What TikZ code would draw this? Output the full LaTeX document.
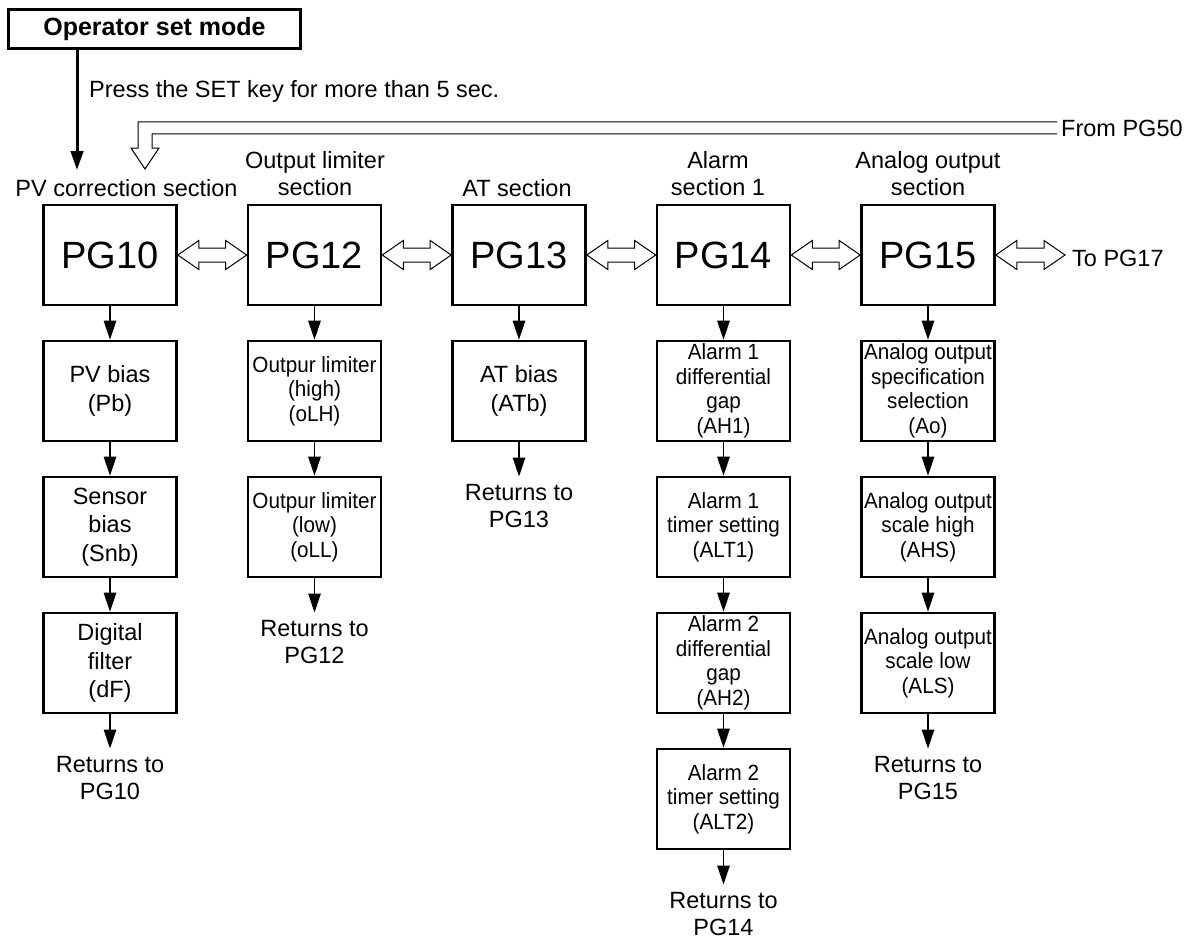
\documentclass[tikz,border=0pt]{standalone}
\usepackage{fontspec}
\setmainfont{Liberation Sans}
\newfontfamily\narrowfont[FakeStretch=0.94]{Liberation Sans}
\usetikzlibrary{calc}
\usetikzlibrary{arrows.meta}

\tikzset{
  pgbox/.style={draw, line width=2.6pt, minimum width=133pt, minimum height=100pt, inner sep=0pt, font=\fontsize{38}{40}\selectfont},
  itembox/.style={draw, line width=2.6pt, minimum width=133pt, minimum height=100pt, inner sep=0pt, align=center, font=\fontsize{23.5}{28.5}\selectfont},
  narrowbox/.style={itembox, font=\narrowfont\fontsize{22}{24.5}\selectfont},
  sectitle/.style={align=center, inner sep=0pt, font=\fontsize{23.5}{27}\selectfont},
  rettext/.style={align=center, anchor=north, inner xsep=0pt, inner ysep=8pt, font=\fontsize{23.5}{26.5}\selectfont},
  freetext/.style={inner sep=0pt, font=\fontsize{23.5}{27}\selectfont},
  flow/.style={line width=1.3pt, -{Triangle[length=19pt,width=12.5pt]}},
  hollow/.style={line width=1pt},
}

% hollow double arrow between two page boxes
\newcommand{\twoway}[2]{%
  \draw[hollow] (#1.east) -- ++(21,-14.5) -- ++(0,7.5)
    -- ($(#2.west |- #1.east)+(-21,-7)$) -- ++(0,-7.5) -- (#2.west |- #1.east)
    -- ++(-21,14.5) -- ++(0,-7.5) -- ($(#1.east)+(21,7)$) -- ++(0,7.5) -- cycle;}

\begin{document}
\begin{tikzpicture}[x=1pt, y=-1pt]
	\useasboundingbox (0,0) rectangle (1203,942);

	% entry from operator set mode
	\node[draw, line width=2.6pt, minimum width=292pt, minimum height=39pt, inner sep=0pt, font=\fontsize{25}{27}\selectfont\bfseries] (opmode) at (154.5,29) {Operator set mode};
	\coordinate (entry) at (77,170);
	\draw[flow, line width=3pt] (opmode.south -| entry) -- (entry);
	\node[freetext, anchor=base west] (presstext) at (89,97) {Press the SET key for more than 5 sec.};

	% return path from PG50
	\node[freetext, anchor=base west] (from50) at (1061,136) {From PG50};
	\coordinate (fbtip) at (145,169);
	\draw[hollow] ($(from50.west)+(-4,-6)$) -| ($(fbtip)+(-7,-21)$) -- ++(-7,0) -- (fbtip)
		-- ++(14,-21) -- ++(-7,0) |- ($(from50.west)+(-4,6)$);

	% section titles
	\node[sectitle] (secpv) at (126.5,188) {PV correction section};
	\node[sectitle] (secol) at (315,173.5) {Output limiter\\section};
	\node[sectitle] (secat) at (517,188) {AT section};
	\node[sectitle] (secal) at (718,173.5) {Alarm\\section 1};
	\node[sectitle] (secao) at (928,174) {Analog output\\section};

	% parameter groups
	\node[pgbox] (pg10) at (110,255) {PG10};
	\node[pgbox] (pg12) at (314.5,255) {PG12};
	\node[pgbox] (pg13) at (519,255) {PG13};
	\node[pgbox] (pg14) at (723.5,255) {PG14};
	\node[pgbox] (pg15) at (928,255) {PG15};
	\node[freetext, anchor=west, inner xsep=7pt] (pg17) at (1065,258) {To PG17};

	\twoway{pg10}{pg12}
	\twoway{pg12}{pg13}
	\twoway{pg13}{pg14}
	\twoway{pg14}{pg15}
	\twoway{pg15}{pg17}

	% PV correction section
	\node[itembox] (pb) at (110,391) {PV bias\\(Pb)};
	\node[itembox] (snb) at (110,527) {Sensor\\bias\\(Snb)};
	\node[itembox] (df) at (110,663) {Digital\\filter\\(dF)};
	\node[rettext] (ret10) at (110,748.5) {Returns to\\PG10};
	\draw[flow] (pg10.south) -- (pb.north);
	\draw[flow] (pb.south) -- (snb.north);
	\draw[flow] (snb.south) -- (df.north);
	\draw[flow] (df.south) -- (ret10.north);

	% output limiter section
	\node[narrowbox] (olh) at (314.5,391) {Outpur limiter\\(high)\\(oLH)};
	\node[narrowbox] (oll) at (314.5,527) {Outpur limiter\\(low)\\(oLL)};
	\node[rettext] (ret12) at (314.5,612.5) {Returns to\\PG12};
	\draw[flow] (pg12.south) -- (olh.north);
	\draw[flow] (olh.south) -- (oll.north);
	\draw[flow] (oll.south) -- (ret12.north);

	% AT section
	\node[itembox] (atb) at (519,391) {AT bias\\(ATb)};
	\node[rettext] (ret13) at (519,476.5) {Returns to\\PG13};
	\draw[flow] (pg13.south) -- (atb.north);
	\draw[flow] (atb.south) -- (ret13.north);

	% alarm section 1
	\node[narrowbox] (ah1) at (723.5,391) {Alarm 1\\differential\\gap\\(AH1)};
	\node[narrowbox] (alt1) at (723.5,527) {Alarm 1\\timer setting\\(ALT1)};
	\node[narrowbox] (ah2) at (723.5,663) {Alarm 2\\differential\\gap\\(AH2)};
	\node[narrowbox] (alt2) at (723.5,799) {Alarm 2\\timer setting\\(ALT2)};
	\node[rettext] (ret14) at (723.5,884.5) {Returns to\\PG14};
	\draw[flow] (pg14.south) -- (ah1.north);
	\draw[flow] (ah1.south) -- (alt1.north);
	\draw[flow] (alt1.south) -- (ah2.north);
	\draw[flow] (ah2.south) -- (alt2.north);
	\draw[flow] (alt2.south) -- (ret14.north);

	% analog output section
	\node[narrowbox] (ao) at (928,391) {Analog output\\specification\\selection\\(Ao)};
	\node[narrowbox] (ahs) at (928,527) {Analog output\\scale high\\(AHS)};
	\node[narrowbox] (als) at (928,663) {Analog output\\scale low\\(ALS)};
	\node[rettext] (ret15) at (928,748.5) {Returns to\\PG15};
	\draw[flow] (pg15.south) -- (ao.north);
	\draw[flow] (ao.south) -- (ahs.north);
	\draw[flow] (ahs.south) -- (als.north);
	\draw[flow] (als.south) -- (ret15.north);

\end{tikzpicture}
\end{document}
